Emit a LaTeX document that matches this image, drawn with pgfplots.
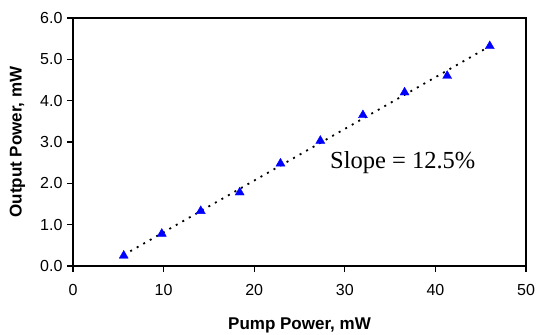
\documentclass[border=0pt]{standalone}
\usepackage{pgfplots}
\pgfplotsset{compat=1.18}
\usepackage{fontspec}
\setmainfont{Liberation Sans}
\newfontfamily\timesfont{Liberation Serif}
\begin{document}
\begin{tikzpicture}
\useasboundingbox (-73bp,-69bp) rectangle (464bp,266bp);
\begin{axis}[
  at={(0,0)}, anchor=south west,
  scale only axis,
  width=453bp, height=248bp,
  xmin=0, xmax=50, ymin=0, ymax=6,
  xtick={0,10,20,30,40,50},
  ytick={0,1,2,3,4,5,6},
  tick align=outside,
  xtick pos=bottom, ytick pos=left,
  major tick length=6bp,
  major tick style={black, line width=1.2bp},
  axis line style={black, line width=1.6bp},
  /pgf/number format/assume math mode=true,
  yticklabel style={/pgf/number format/fixed, /pgf/number format/fixed zerofill, /pgf/number format/precision=1, font=\fontsize{16bp}{18bp}\selectfont, xshift=-1bp},
  xticklabel style={font=\fontsize{16bp}{18bp}\selectfont, yshift=-9bp},
  xlabel={Pump Power, mW},
  ylabel={Output Power, mW},
  xlabel style={at={(axis description cs:0.5,-0.238)}, anchor=center, font=\bfseries\fontsize{17bp}{19bp}\selectfont},
  ylabel style={at={(axis description cs:-0.1225,0.5)}, anchor=center, rotate=0, font=\bfseries\fontsize{17bp}{19bp}\selectfont},
  clip=false,
]
\addplot[black, line width=1.8bp, dash pattern=on 2bp off 5.5bp] coordinates {(5.6,0.267) (46.0,5.317)};
\addplot[only marks, mark=triangle*, mark size=5.2bp, mark options={fill=blue, draw=blue}] coordinates {
(5.6,0.25) (9.8,0.78) (14.1,1.33) (18.4,1.78) (22.9,2.48) (27.3,3.03) (32.0,3.65) (36.6,4.20) (41.3,4.60) (46.0,5.32)
};
\node[anchor=base, font=\timesfont\fontsize{24.5bp}{28bp}\selectfont, inner sep=0pt] at (axis cs:36.4,2.37) {Slope = 12.5\%};
\end{axis}
\end{tikzpicture}
\end{document}
